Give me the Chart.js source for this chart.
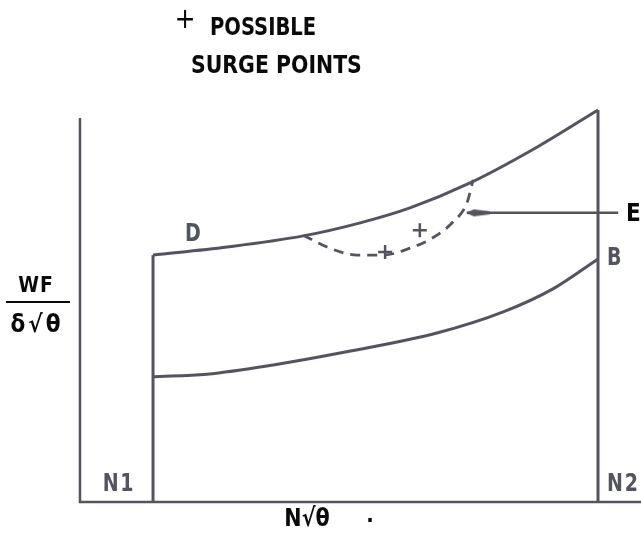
<!DOCTYPE html>
<html>
<head>
<meta charset="utf-8">
<title>Compressor working line and surge region</title>
<script src="https://cdn.jsdelivr.net/npm/chart.js@4.4.1/dist/chart.umd.min.js"></script>
<style>
  html, body { margin: 0; padding: 0; background: #ffffff; }
  #wrap { width: 641px; height: 534px; position: relative; }
  canvas { display: block; }
</style>
</head>
<body>
<div id="wrap"><canvas id="chart" width="641" height="534"></canvas></div>
<script>
// Corrected speed N√θ (arbitrary units, N2 = 100) and corrected flow WF/δ√θ (arbitrary units)
const speedN1 = 14.1;
const speedN2 = 100;
const flowAtN1Top = 64.3;
const flowAtN2Top = 102.1;

// Upper boundary D (from N1 up to N2)
const upperX = [14.1, 28.4, 43.1, 54.1, 63.7, 75.3, 88.2, 100];
const upperY = [64.3, 66.4, 69.3, 72.7, 76.6, 83.1, 92.4, 102.1];

// Lower curve ending at B
const lowerX = [14.1, 24.5, 37.3, 50.2, 68.9, 81.7, 91.3, 100];
const lowerY = [32.6, 33.3, 35.7, 38.8, 44.0, 49.5, 55.5, 63.3];

// Dashed surge line E
const surgeX = [43.1, 47.7, 53.5, 58.5, 63.7, 68.1, 72.0, 74.7, 75.9];
const surgeY = [69.5, 66.4, 64.3, 64.3, 66.1, 68.8, 72.9, 77.9, 83.9];

// Possible surge points
const pointsX = [58.9, 65.6];
const pointsY = [65.1, 70.8];

// Pointer to E: tip, head centre, tail
const arrowX = [74.7, 76.8, 103.9];
const arrowY = [75.3, 75.3, 75.3];

// Axis extents
const axisXMax = 108.3;
const axisYMax = 100;

// Text
const titleMark = '+';
const titleLines = ['POSSIBLE', 'SURGE POINTS'];
const yTitleTop = 'WF';
const yTitleBottom = 'δ√θ';
const xTitle = 'N√θ';
const speedLabels = ['N1', 'N2'];
const curveLabels = ['D', 'B', 'E'];

const pts = (xs, ys) => xs.map((x, i) => ({ x: x, y: ys[i] }));

const INK = '#54545f';
const BLACK = '#0a0a0a';
const FONT = '"DejaVu Sans Condensed", "DejaVu Sans", sans-serif';

// Elongated arrow head, pointing left
const head = document.createElement('canvas');
head.width = 24; head.height = 9;
(function () {
  const c = head.getContext('2d');
  c.fillStyle = INK;
  c.beginPath();
  c.moveTo(0, 4.5);
  c.lineTo(8, 1);
  c.lineTo(24, 3);
  c.lineTo(24, 6);
  c.lineTo(8, 8);
  c.closePath();
  c.fill();
})();

const textPlugin = {
  id: 'diagramText',
  afterDatasetsDraw(chart) {
    const ctx = chart.ctx;
    ctx.save();
    ctx.textBaseline = 'middle';
    // lettering is narrow, like stencil lettering: squeeze horizontally
    const put = (s, x, y, size, color, align, weight, sx, spacing) => {
      ctx.save();
      ctx.translate(x, y);
      ctx.scale(sx || 0.88, 1);
      ctx.font = (weight || 'bold') + ' ' + size + 'px ' + FONT;
      ctx.letterSpacing = (spacing || 0) + 'px';
      ctx.fillStyle = color;
      ctx.textAlign = align || 'left';
      ctx.fillText(s, 0, 0);
      ctx.restore();
    };
    // title
    put(titleMark, 185, 21, 28, BLACK, 'center', 'normal', 1);
    put(titleLines[0], 210, 28, 25, BLACK, 'left', 'bold', 0.87);
    put(titleLines[1], 191, 66.5, 25, BLACK, 'left', 'bold', 0.91);
    // curve labels
    put(curveLabels[0], 193, 235, 24, INK, 'center');
    put(curveLabels[1], 607, 259, 24, INK, 'left');
    put(curveLabels[2], 626, 215, 24, BLACK, 'left', 'bold', 1);
    // speed lines
    put(speedLabels[0], 119, 485, 24, INK, 'center', 'bold', 0.88, 2);
    put(speedLabels[1], 607, 485, 24, INK, 'left', 'bold', 0.88, 2);
    // axis titles
    put(xTitle, 307, 519, 25, BLACK, 'center', 'bold', 0.92);
    put('.', 370, 516, 22, BLACK, 'center', 'bold', 1);
    put(yTitleTop, 36, 286, 22, BLACK, 'center', 'bold', 0.95, 1);
    put(yTitleBottom, 37, 326, 24, BLACK, 'center', 'bold', 1, 3);
    ctx.strokeStyle = BLACK;
    ctx.lineWidth = 2;
    ctx.beginPath();
    ctx.moveTo(6, 302);
    ctx.lineTo(70, 302);
    ctx.stroke();
    ctx.restore();
  }
};

const solid = (data, w) => ({
  data: data, showLine: true, borderColor: INK, borderWidth: w || 3,
  pointRadius: 0, fill: false, tension: 0
});

new Chart(document.getElementById('chart'), {
  type: 'scatter',
  data: {
    datasets: [
      solid(pts([0, 0, axisXMax], [axisYMax, 0, 0]), 2.5),
      solid(pts([speedN1, speedN1], [0, flowAtN1Top]), 3),
      solid(pts([speedN2, speedN2], [0, flowAtN2Top]), 3),
      Object.assign(solid(pts(upperX, upperY), 3), { cubicInterpolationMode: 'monotone' }),
      Object.assign(solid(pts(lowerX, lowerY), 3), { cubicInterpolationMode: 'monotone' }),
      Object.assign(solid(pts(surgeX, surgeY), 2.8), { cubicInterpolationMode: 'monotone', borderDash: [10, 7] }),
      {
        data: pts(pointsX, pointsY), showLine: false,
        pointStyle: 'cross', pointRadius: 7, pointBorderWidth: 2.5,
        pointBorderColor: INK, pointBackgroundColor: INK
      },
      Object.assign(solid(pts(arrowX, arrowY), 2.5), {
        pointRadius: [0, 1, 0],
        pointStyle: [false, head, false]
      })
    ]
  },
  options: {
    responsive: false,
    animation: false,
    devicePixelRatio: 1,
    layout: { padding: 0, autoPadding: false },
    plugins: { legend: { display: false }, title: { display: false }, tooltip: { enabled: false } },
    events: [],
    scales: {
      x: { type: 'linear', min: -15.44, max: 108.3, display: false },
      y: { type: 'linear', min: -8.33, max: 130.73, display: false }
    }
  },
  plugins: [textPlugin]
});
</script>
</body>
</html>
